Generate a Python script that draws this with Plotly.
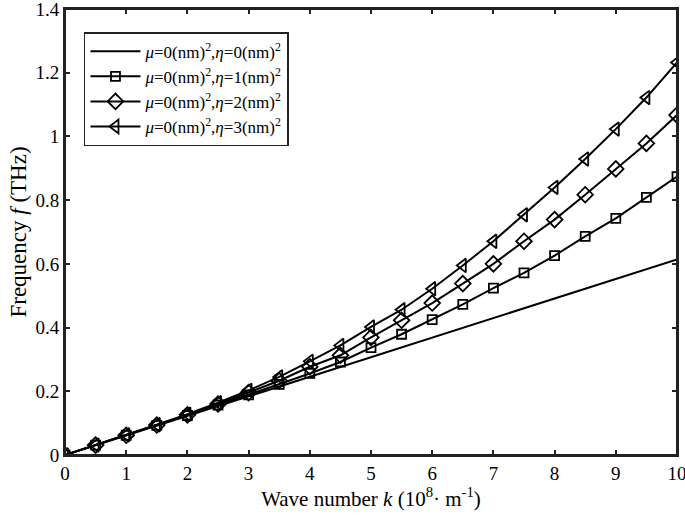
import plotly.graph_objects as go

k = [0, 0.5, 1, 1.5, 2, 2.5, 3, 3.5, 4, 4.5, 5, 5.5, 6, 6.5, 7, 7.5, 8, 8.5, 9, 9.5, 10]
k_line = [0, 10]
f_eta0 = [0, 0.614]
f_eta1 = [0, 0.031, 0.062, 0.093, 0.124, 0.157, 0.189, 0.222, 0.256, 0.292, 0.337, 0.379, 0.425,
          0.473, 0.524, 0.572, 0.626, 0.686, 0.743, 0.809, 0.874]
f_eta2 = [0, 0.031, 0.062, 0.094, 0.126, 0.160, 0.196, 0.233, 0.277, 0.313, 0.369, 0.423, 0.477,
          0.538, 0.600, 0.671, 0.739, 0.817, 0.898, 0.978, 1.067]
f_eta3 = [0, 0.031, 0.063, 0.095, 0.128, 0.164, 0.203, 0.245, 0.294, 0.344, 0.402, 0.456, 0.522,
          0.595, 0.671, 0.754, 0.840, 0.929, 1.023, 1.122, 1.232]
names = ["<i>μ</i>=0(nm)<sup>2</sup>,<i>η</i>=0(nm)<sup>2</sup>",
         "<i>μ</i>=0(nm)<sup>2</sup>,<i>η</i>=1(nm)<sup>2</sup>",
         "<i>μ</i>=0(nm)<sup>2</sup>,<i>η</i>=2(nm)<sup>2</sup>",
         "<i>μ</i>=0(nm)<sup>2</sup>,<i>η</i>=3(nm)<sup>2</sup>"]

FONT = "Liberation Serif, Times New Roman, serif"
fig = go.Figure()
fig.add_trace(go.Scatter(x=k_line, y=f_eta0, mode="lines", name=names[0],
                         line=dict(color="black", width=2)))
for ys, sym, sz, nm in [(f_eta1, "square-open", 9, names[1]),
                        (f_eta2, "diamond-open", 12, names[2]),
                        (f_eta3, "triangle-left-open", 12, names[3])]:
    fig.add_trace(go.Scatter(x=k, y=ys, mode="lines+markers", name=nm,
                             line=dict(color="black", width=2),
                             marker=dict(symbol=sym, size=sz, color="black",
                                         line=dict(color="black", width=1.8))))

axis_common = dict(showline=True, linecolor="#222", linewidth=2, mirror="ticks",
                   ticks="inside", ticklen=5, tickwidth=1.5, tickcolor="#222",
                   showgrid=False, zeroline=False, automargin=False,
                   ticklabeloverflow="allow",
                   tickfont=dict(family=FONT, size=19, color="black"))
fig.update_xaxes(range=[0, 10], dtick=1,
                 title=dict(text="Wave number <i>k</i> (10<sup>8</sup>· m<sup>-1</sup>)",
                            font=dict(family=FONT, size=21, color="black"), standoff=8),
                 **axis_common)
fig.update_yaxes(range=[0, 1.4], dtick=0.2, tickformat="~g",
                 title=dict(text="Frequency <i>f</i> (THz)",
                            font=dict(family=FONT, size=23, color="black"), standoff=2),
                 **axis_common)
fig.add_shape(type="rect", xref="paper", yref="paper", x0=0, y0=0, x1=1, y1=1,
              line=dict(color="#222", width=2), fillcolor="rgba(0,0,0,0)", layer="above")
fig.update_layout(width=685, height=517, margin=dict(l=65, r=8, t=9, b=62),
                  paper_bgcolor="white", plot_bgcolor="white",
                  font=dict(family=FONT, color="black"),
                  legend=dict(x=0.031, y=0.948, xanchor="left", yanchor="top",
                              bgcolor="white", bordercolor="#222", borderwidth=1.5,
                              font=dict(family=FONT, size=17, color="black"),
                              tracegroupgap=0, itemwidth=50))
fig.write_html("out.html", config={"displayModeBar": False},
               post_script="document.body.style.margin='0';document.body.style.overflow='hidden';")
